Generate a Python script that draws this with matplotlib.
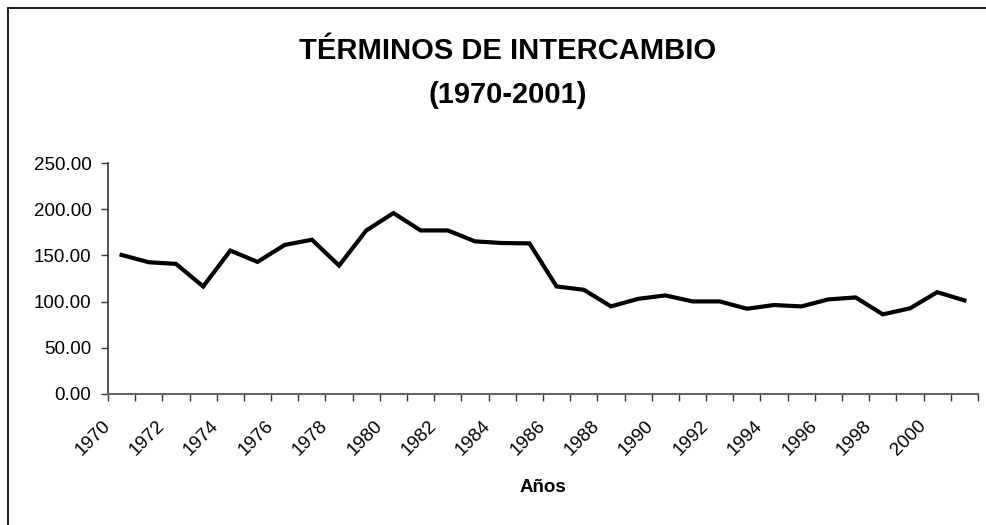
import matplotlib
matplotlib.use("Agg")
import matplotlib.pyplot as plt
from matplotlib.lines import Line2D
from matplotlib.transforms import ScaledTranslation, blended_transform_factory

plt.rcParams['font.family'] = ['Liberation Sans', 'DejaVu Sans']

years = list(range(1970, 2002))
values = [150.5, 142.6, 140.8, 116.4, 155.2, 143.0, 161.3, 167.0, 139.0, 177.0,
          195.8, 177.0, 177.0, 165.2, 163.4, 163.0, 116.4, 112.8, 94.8, 103.0,
          106.7, 100.2, 100.2, 92.3, 96.3, 94.8, 102.4, 104.5, 86.2, 92.7,
          110.2, 101.3]
y_ticks = [0, 50, 100, 150, 200, 250]
title = "TÉRMINOS DE INTERCAMBIO\n(1970-2001)"
xlabel = "Años"

W, H = 987, 525
fig = plt.figure(figsize=(W / 100, H / 100), dpi=100)
fig.patch.set_facecolor('white')

# outer border (only left and top edges are visible in the reference)
bx, by = 8.5 / W, 1 - 7.5 / H
fig.lines.append(Line2D([bx, bx], [0, by], transform=fig.transFigure,
                        color='#222222', linewidth=1.5))
fig.lines.append(Line2D([bx, 1], [by, by], transform=fig.transFigure,
                        color='#222222', linewidth=1.5))

ax = fig.add_axes([108 / W, 1 - 394 / H, (978 - 108) / W, (394 - 163) / H])
n = len(years)
xs = [i + 0.5 for i in range(n)]
ax.plot(xs, values, color='black', linewidth=3.0, solid_joinstyle='miter')

ax.set_xlim(0, n)
ax.set_ylim(0, 250)
ax.set_yticks(y_ticks)
ax.set_yticklabels([f"{v:.2f}" for v in y_ticks], fontsize=13.5)
ax.tick_params(axis='y', direction='out', length=5, width=1, color='#333333', pad=7)

# category boundary ticks
ax.set_xticks(range(n + 1))
ax.set_xticklabels([])
ax.tick_params(axis='x', direction='out', length=5, width=1, color='#333333')

for s in ['top', 'right']:
    ax.spines[s].set_visible(False)
ax.spines['left'].set_color('#333333')
ax.spines['bottom'].set_color('#666666')
ax.spines['left'].set_linewidth(1.2)
ax.spines['bottom'].set_linewidth(1.5)

trans = blended_transform_factory(ax.transData, ax.transAxes) + \
    ScaledTranslation(-20 / 100, -23 / 100, fig.dpi_scale_trans)
for i, yr in enumerate(years):
    if i % 2 == 0:
        ax.text(xs[i], 0, str(yr), transform=trans, rotation=45,
                rotation_mode='anchor', ha='right', va='top', fontsize=13.5)

fig.text((108 + 978) / 2 / W, 1 - 488 / H, xlabel, ha='center', va='center',
         fontsize=13.5, fontweight='bold')
fig.text(508 / W, 1 - 73 / H, title, ha='center', va='center', fontsize=21,
         fontweight='bold', linespacing=1.75)

fig.savefig('out.png', dpi=100, facecolor='white')
